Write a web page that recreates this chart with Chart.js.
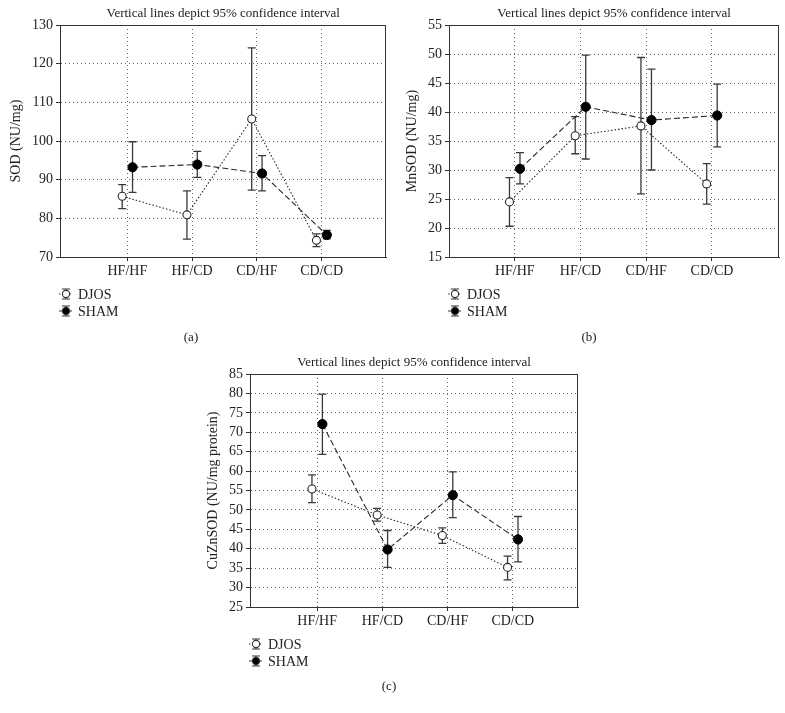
<!DOCTYPE html>
<html><head><meta charset="utf-8">
<script src="https://cdn.jsdelivr.net/npm/chart.js@4.4.1/dist/chart.umd.min.js"></script>
<style>
html,body{margin:0;padding:0;background:#fff;}
body{width:785px;height:713px;position:relative;overflow:hidden;font-family:"Liberation Serif",serif;}
.panel{position:absolute;}
.cap{position:absolute;font-size:13px;color:#222;transform:translate(-50%,-50%);font-family:"Liberation Serif",serif;}
</style></head><body>
<div class="panel" style="left:0;top:0;width:392px;height:330px"><canvas id="ca" width="392" height="330"></canvas></div>
<div class="panel" style="left:390px;top:0;width:395px;height:330px"><canvas id="cb" width="395" height="330"></canvas></div>
<div class="panel" style="left:200px;top:350px;width:385px;height:330px"><canvas id="cc" width="385" height="330"></canvas></div>
<div class="cap" style="left:191px;top:337px">(a)</div>
<div class="cap" style="left:589px;top:337px">(b)</div>
<div class="cap" style="left:389px;top:686px">(c)</div>
<script>
const categories = ['HF/HF', 'HF/CD', 'CD/HF', 'CD/CD'];
const seriesNames = ['DJOS', 'SHAM'];
const chartTitle = 'Vertical lines depict 95% confidence interval';

// (a) SOD (NU/mg)
const sodTicks = [70, 80, 90, 100, 110, 120, 130];
const sodDjos = [85.7, 80.9, 105.7, 74.3];
const sodDjosLow = [82.5, 74.6, 87.3, 72.7];
const sodDjosHigh = [88.7, 87.1, 124.1, 76.0];
const sodSham = [93.2, 93.9, 91.6, 75.7];
const sodShamLow = [86.7, 90.6, 87.1, 74.7];
const sodShamHigh = [99.8, 97.3, 96.2, 76.9];

// (b) MnSOD (NU/mg)
const mnsodTicks = [15, 20, 25, 30, 35, 40, 45, 50, 55];
const mnsodDjos = [24.5, 35.9, 37.6, 27.6];
const mnsodDjosLow = [20.3, 32.8, 25.9, 24.1];
const mnsodDjosHigh = [28.7, 39.2, 49.4, 31.1];
const mnsodSham = [30.2, 40.9, 38.6, 39.4];
const mnsodShamLow = [27.6, 31.9, 30.0, 34.0];
const mnsodShamHigh = [33.0, 49.8, 47.4, 44.8];

// (c) CuZnSOD (NU/mg protein)
const cuznTicks = [25, 30, 35, 40, 45, 50, 55, 60, 65, 70, 75, 80, 85];
const cuznDjos = [55.4, 48.7, 43.4, 35.2];
const cuznDjosLow = [51.9, 47.1, 41.4, 32.0];
const cuznDjosHigh = [59.0, 50.4, 45.4, 38.1];
const cuznSham = [72.1, 39.8, 53.8, 42.4];
const cuznShamLow = [64.3, 35.2, 48.0, 36.6];
const cuznShamHigh = [79.8, 44.7, 59.8, 48.3];

const FONT = '"Liberation Serif", "Times New Roman", serif';
const INK = '#2a2a2a';
const DODGE = 0.08;

function pts(vals, off) { return vals.map((v, i) => ({ x: i + 1 + off, y: v })); }

const errorBars = {
  id: 'errorBars',
  beforeDatasetsDraw(chart) {
    const { ctx, chartArea: a, scales: { x, y } } = chart;
    ctx.save();
    ctx.strokeStyle = '#333';
    ctx.lineWidth = 1;
    ctx.strokeRect(Math.round(a.left) + 0.5, Math.round(a.top) + 0.5, Math.round(a.right - a.left) - 1, Math.round(a.bottom - a.top));
    ctx.restore();
    ctx.save();
    ctx.strokeStyle = '#3a3a3a';
    ctx.lineWidth = 1.3;
    chart.data.datasets.forEach(ds => {
      ds.data.forEach((p, i) => {
        const px = x.getPixelForValue(p.x);
        const yl = y.getPixelForValue(ds.errLow[i]);
        const yh = y.getPixelForValue(ds.errHigh[i]);
        ctx.beginPath();
        ctx.moveTo(px, yl); ctx.lineTo(px, yh);
        ctx.moveTo(px - 4, yl); ctx.lineTo(px + 4, yl);
        ctx.moveTo(px - 4, yh); ctx.lineTo(px + 4, yh);
        ctx.stroke();
      });
    });
    ctx.restore();
  },
  afterDraw(chart) {
    const { ctx, chartArea: a } = chart;
    ctx.save();
    ctx.fillStyle = '#222';
    ctx.font = '13px ' + FONT;
    ctx.textAlign = 'center';
    ctx.textBaseline = 'middle';
    ctx.fillText(chartTitle, (a.left + a.right) / 2, a.top - 11);
    ctx.font = '14px ' + FONT;
    ctx.textAlign = 'left';
    chart.data.datasets.forEach((ds, k) => {
      const cx = a.left + 6, cy = a.bottom + 37 + k * 17;
      ctx.strokeStyle = '#333';
      ctx.lineWidth = 1.1;
      ctx.setLineDash(ds.borderDash);
      ctx.beginPath(); ctx.moveTo(cx - 7, cy); ctx.lineTo(cx + 6, cy); ctx.stroke();
      ctx.setLineDash([]);
      ctx.beginPath();
      ctx.moveTo(cx, cy - 5); ctx.lineTo(cx, cy + 5);
      ctx.moveTo(cx - 4, cy - 5); ctx.lineTo(cx + 4, cy - 5);
      ctx.moveTo(cx - 4, cy + 5); ctx.lineTo(cx + 4, cy + 5);
      ctx.stroke();
      ctx.beginPath(); ctx.arc(cx, cy, 3.6, 0, Math.PI * 2);
      ctx.fillStyle = ds.pointBackgroundColor; ctx.fill();
      ctx.stroke();
      ctx.fillStyle = '#222';
      ctx.fillText(ds.label, a.left + 18, cy + 1);
    });
    ctx.restore();
  }
};

function makeChart(id, yTitle, ticks, djos, djosLo, djosHi, sham, shamLo, shamHi, lay) {
  new Chart(document.getElementById(id), {
    type: 'line',
    data: {
      datasets: [
        { label: seriesNames[0], data: pts(djos, -DODGE), errLow: djosLo, errHigh: djosHi,
          borderColor: INK, borderWidth: 1.1, borderDash: [1.5, 2],
          pointRadius: 4, pointBorderWidth: 1.1, pointBorderColor: INK, pointBackgroundColor: '#ffffff' },
        { label: seriesNames[1], data: pts(sham, DODGE), errLow: shamLo, errHigh: shamHi,
          borderColor: INK, borderWidth: 1.1, borderDash: [6, 3],
          pointRadius: 4.6, pointBorderWidth: 1, pointBorderColor: '#000', pointBackgroundColor: '#000000' }
      ]
    },
    options: {
      responsive: false, animation: false,
      layout: { padding: { left: 0, right: lay.right, top: lay.top, bottom: 43 } },
      plugins: { legend: { display: false }, tooltip: { enabled: false }, title: { display: false } },
      scales: {
        x: {
          type: 'linear', min: lay.xmin, max: lay.xmax,
          afterBuildTicks: s => { s.ticks = categories.map((c, i) => ({ value: i + 1 })); },
          afterFit: s => { s.height = 30; },
          ticks: { callback: v => categories[Math.round(v) - 1] || '', color: '#222',
                   font: { family: FONT, size: 14 }, padding: 2, maxRotation: 0, autoSkip: false },
          grid: { color: '#666', lineWidth: 1, drawTicks: true, tickLength: 4, tickColor: '#333' },
          border: { display: true, color: '#333', width: 1, dash: [1, 3] }
        },
        y: {
          min: ticks[0], max: ticks[ticks.length - 1],
          afterBuildTicks: s => { s.ticks = ticks.map(v => ({ value: v })); },
          afterFit: s => { s.width = lay.left; },
          ticks: { color: '#222', font: { family: FONT, size: 14 }, padding: 3, autoSkip: false },
          grid: { color: '#666', lineWidth: 1, drawTicks: true, tickLength: 4, tickColor: '#333' },
          border: { display: true, color: '#333', width: 1, dash: [1, 3] },
          title: { display: true, text: yTitle, color: '#222', font: { family: FONT, size: 14 },
                   padding: { top: lay.tp, bottom: 0 } }
        }
      }
    },
    plugins: [errorBars]
  });
}

makeChart('ca', 'SOD (NU/mg)', sodTicks, sodDjos, sodDjosLow, sodDjosHigh, sodSham, sodShamLow, sodShamHigh,
  { left: 60, right: 4, top: 25, tp: 8, xmin: -0.04, xmax: 5 });
makeChart('cb', 'MnSOD (NU/mg)', mnsodTicks, mnsodDjos, mnsodDjosLow, mnsodDjosHigh, mnsodSham, mnsodShamLow, mnsodShamHigh,
  { left: 59, right: 6, top: 25, tp: 13.5, xmin: 0, xmax: 5.02 });
makeChart('cc', 'CuZnSOD (NU/mg protein)', cuznTicks, cuznDjos, cuznDjosLow, cuznDjosHigh, cuznSham, cuznShamLow, cuznShamHigh,
  { left: 50, right: 7, top: 24, tp: 4.5, xmin: -0.03, xmax: 5 });
</script>
</body></html>
